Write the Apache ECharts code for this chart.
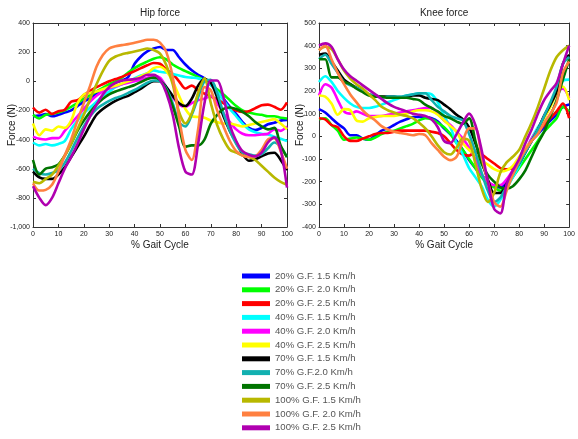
<!DOCTYPE html>
<html>
<head>
<meta charset="utf-8">
<script src="https://cdn.jsdelivr.net/npm/echarts@6/dist/echarts.min.js"></script>
<style>
html,body{margin:0;padding:0;background:#fff;}
#c{width:578px;height:439px;}
</style>
</head>
<body>
<div id="c"></div>
<script>
// % gait cycle sample points
const gaitPct = [0,2.5,5,7.5,10,12.5,15,17.5,20,22.5,25,27.5,30,32.5,35,37.5,40,42.5,45,47.5,50,52.5,55,57.5,60,62.5,65,67.5,70,72.5,75,77.5,80,82.5,85,87.5,90,92.5,95,97.5,100];
const seriesNames = ['20% G.F. 1.5 Km/h','20% G.F. 2.0 Km/h','20% G.F. 2.5 Km/h','40% G.F. 1.5 Km/h','40% G.F. 2.0 Km/h','40% G.F. 2.5 Km/h','70% G.F. 1.5 Km/h','70% G.F.2.0 Km/h','70% G.F. 2.5 Km/h','100% G.F. 1.5 Km/h','100% G.F. 2.0 Km/h','100% G.F. 2.5 Km/h'];
const seriesColors = ['#0000ff','#00ff00','#ff0000','#00ffff','#ff00ff','#ffff00','#000000','#12b0b0','#007400','#b8b800','#ff8040','#b000b0'];
const hipTicks = [-1000,-800,-600,-400,-200,0,200,400];
const kneeTicks = [-400,-300,-200,-100,0,100,200,300,400,500];

// Hip force (N)
const hip20_15 = [-240,-235,-225,-240,-230,-215,-200,-170,-140,-115,-85,-55,-30,-10,5,30,120,170,205,225,235,215,215,165,115,75,45,20,-20,-70,-120,-175,-225,-280,-320,-335,-320,-295,-285,-270,-265];
const hip20_20 = [-230,-255,-230,-225,-215,-200,-175,-150,-120,-95,-70,-45,-20,0,25,60,90,115,135,155,165,150,115,90,70,50,30,5,-25,-55,-90,-130,-170,-200,-215,-225,-230,-240,-240,-250,-255];
const hip20_25 = [-180,-215,-195,-225,-205,-195,-140,-130,-95,-65,-40,-20,0,15,30,50,70,90,110,125,120,80,50,0,-50,-30,-60,-85,-105,-125,-150,-180,-200,-210,-205,-185,-165,-160,-175,-195,-145];
const hip40_15 = [-420,-440,-430,-440,-430,-410,-330,-270,-220,-180,-140,-100,-70,-40,-20,0,20,40,55,75,65,60,50,40,30,25,20,5,-25,-70,-130,-190,-240,-290,-330,-350,-360,-365,-380,-395,-410];
const hip40_20 = [-380,-395,-400,-390,-390,-340,-290,-240,-190,-140,-100,-70,-50,-35,-20,-10,0,10,25,40,25,-40,-110,-160,-175,-150,-130,-120,-100,-150,-220,-280,-330,-360,-370,-370,-365,-360,-330,-340,-310];
const hip40_25 = [-290,-370,-330,-340,-310,-320,-270,-150,-90,-80,-70,-55,-40,-30,-15,0,15,35,55,90,100,70,0,-100,-190,-240,-245,-250,-270,-280,-290,-290,-300,-310,-300,-290,-280,-270,-260,-290,-330];
const hip70_15 = [-620,-660,-670,-670,-640,-590,-520,-450,-380,-300,-230,-190,-160,-135,-115,-100,-75,-50,-20,0,0,-40,-100,-150,-170,-120,-30,15,-10,-110,-240,-340,-420,-500,-545,-535,-515,-495,-490,-540,-610];
const hip70_20 = [-600,-630,-640,-630,-610,-560,-480,-390,-310,-240,-190,-160,-135,-115,-100,-80,-60,-35,-10,5,0,-50,-150,-280,-310,-230,-110,0,10,-80,-220,-340,-430,-490,-500,-510,-500,-460,-420,-450,-520];
const hip70_25 = [-540,-640,-600,-590,-570,-510,-430,-340,-270,-210,-160,-120,-90,-70,-55,-40,-25,-5,15,25,10,-60,-170,-310,-450,-440,-440,-400,-290,-230,-190,-180,-190,-210,-240,-280,-310,-330,-320,-440,-520];
const hip100_15 = [-690,-700,-670,-640,-580,-510,-430,-330,-230,-120,-20,70,140,170,185,195,205,215,225,215,190,110,-20,-210,-290,-220,-80,20,-150,-300,-400,-470,-490,-510,-520,-540,-580,-620,-660,-690,-710];
const hip100_20 = [-700,-750,-745,-710,-620,-510,-400,-270,-150,-30,100,180,225,240,248,255,265,275,285,285,265,200,30,-250,-470,-540,-330,-40,-60,-200,-310,-410,-480,-510,-520,-515,-470,-400,-390,-480,-600];
const hip100_25 = [-720,-800,-850,-800,-700,-600,-520,-430,-330,-240,-160,-90,-40,-10,5,10,15,25,45,45,10,-80,-230,-460,-620,-640,-430,-150,5,5,-110,-300,-410,-480,-505,-515,-490,-420,-385,-470,-730];

// Knee force (N)
const knee20_15 = [120,105,80,55,35,5,5,-10,-15,5,25,35,50,65,75,85,85,85,80,65,35,10,-20,-60,-105,-140,-170,-200,-220,-225,-200,-160,-110,-70,-20,10,40,70,95,130,140];
const knee20_20 = [75,80,50,25,-15,-10,-5,-10,-15,-5,10,20,25,35,45,55,70,80,75,60,40,10,-30,-60,-100,-140,-180,-210,-225,-240,-220,-180,-140,-100,-60,-20,20,50,80,130,110];
const knee20_25 = [80,75,50,40,0,-20,-20,-10,0,10,15,15,20,25,25,25,25,25,20,15,0,-30,-60,-80,-85,-70,-80,-100,-120,-140,-145,-140,-100,-60,-20,20,50,80,110,145,80];
const knee40_15 = [240,265,240,200,170,145,130,125,125,130,140,150,160,170,180,185,190,190,185,150,90,40,-30,-80,-140,-180,-220,-280,-310,-280,-230,-180,-130,-70,-10,40,80,140,200,245,250];
const knee40_20 = [180,230,215,160,110,100,110,100,90,90,90,95,100,105,110,115,120,125,125,100,70,50,20,-10,-50,-100,-170,-200,-215,-215,-190,-150,-110,-60,-10,30,90,140,190,210,170];
const knee40_25 = [180,175,145,95,120,115,70,65,80,85,90,90,90,95,100,110,115,115,110,95,70,45,20,-30,-60,-80,-105,-125,-145,-155,-150,-130,-90,-50,-20,30,80,130,190,220,160];
const knee70_15 = [360,365,330,290,250,230,215,200,185,180,175,175,175,170,175,180,180,170,165,160,140,120,95,75,40,-30,-110,-190,-250,-250,-210,-160,-120,-70,-20,30,90,140,200,320,360];
const knee70_20 = [340,360,320,280,240,225,215,200,185,180,170,175,175,175,180,185,190,190,160,130,110,90,80,70,10,-70,-160,-240,-290,-270,-220,-170,-120,-70,-20,30,90,150,220,320,350];
const knee70_25 = [340,340,260,260,240,230,210,195,180,175,175,170,170,170,170,165,160,140,125,110,90,80,65,55,80,-20,-120,-170,-200,-225,-230,-220,-190,-150,-90,-30,20,90,160,250,340];
const knee100_15 = [380,395,385,340,290,255,230,210,185,160,130,115,105,95,90,80,60,35,0,-40,-70,-80,-50,-10,-20,-120,-230,-290,-250,-160,-115,-90,-60,0,60,130,210,290,350,380,400];
const knee100_20 = [380,400,340,280,230,185,150,115,90,70,45,30,20,15,10,5,10,5,-30,-60,-90,-105,-90,-20,35,35,-90,-200,-290,-310,-240,-170,-110,-60,-20,10,60,100,150,280,330];
const knee100_25 = [400,410,395,340,295,265,245,225,205,185,165,145,130,120,110,100,95,90,75,40,-20,-30,10,60,100,50,-60,-200,-320,-340,-210,-150,-100,-30,30,100,160,200,235,320,400];

const hipSets = [hip20_15,hip20_20,hip20_25,hip40_15,hip40_20,hip40_25,hip70_15,hip70_20,hip70_25,hip100_15,hip100_20,hip100_25];
const kneeSets = [knee20_15,knee20_20,knee20_25,knee40_15,knee40_20,knee40_25,knee70_15,knee70_20,knee70_25,knee100_15,knee100_20,knee100_25];

const FONT = '"Liberation Sans", Arial, sans-serif';
const axisCol = '#333';

function bottomX(grid){
  return {type:'value', gridIndex:grid, position:'bottom', min:0, max:100, interval:10,
    axisLine:{onZero:false, lineStyle:{color:axisCol, width:1}},
    axisTick:{inside:true, length:3, lineStyle:{color:axisCol}},
    axisLabel:{fontSize:7, color:'#222', margin:4, fontFamily:FONT},
    splitLine:{show:false},
    name:'% Gait Cycle', nameLocation:'middle', nameGap:13, nameMoveOverlap:false,
    nameTextStyle:{fontSize:10, color:'#222', fontFamily:FONT}};
}
function topX(grid, title){
  return {type:'value', gridIndex:grid, position:'top', min:0, max:100, interval:10,
    axisLine:{onZero:false, lineStyle:{color:axisCol, width:1}},
    axisTick:{inside:true, length:3, lineStyle:{color:axisCol}},
    axisLabel:{show:false}, splitLine:{show:false},
    name:title, nameLocation:'middle', nameGap:5, nameMoveOverlap:false,
    nameTextStyle:{fontSize:10, color:'#222', fontFamily:FONT}};
}
function leftY(grid, ticks, gap){
  const step = ticks[1]-ticks[0];
  return {type:'value', gridIndex:grid, position:'left', min:ticks[0], max:ticks[ticks.length-1], interval:step,
    axisLine:{onZero:false, lineStyle:{color:axisCol, width:1}},
    axisTick:{inside:true, length:3, lineStyle:{color:axisCol}},
    axisLabel:{fontSize:7, color:'#222', margin:3, fontFamily:FONT},
    splitLine:{show:false},
    name:'Force (N)', nameLocation:'middle', nameGap:gap, nameMoveOverlap:false,
    nameTextStyle:{fontSize:10, color:'#222', fontFamily:FONT}};
}
function rightY(grid, ticks){
  const step = ticks[1]-ticks[0];
  return {type:'value', gridIndex:grid, position:'right', min:ticks[0], max:ticks[ticks.length-1], interval:step,
    axisLine:{onZero:false, lineStyle:{color:axisCol, width:1}},
    axisTick:{inside:true, length:3, lineStyle:{color:axisCol}},
    axisLabel:{show:false}, splitLine:{show:false}};
}

const series = [];
seriesNames.forEach((name,i)=>{
  series.push({name:name, type:'line', xAxisIndex:0, yAxisIndex:0, color:seriesColors[i],
    showSymbol:false, smooth:0.3, lineStyle:{width:2.6, color:seriesColors[i]},
    data: gaitPct.map((x,j)=>[x, hipSets[i][j]])});
  series.push({name:name, type:'line', xAxisIndex:2, yAxisIndex:2, color:seriesColors[i],
    showSymbol:false, smooth:0.3, lineStyle:{width:2.6, color:seriesColors[i]},
    data: gaitPct.map((x,j)=>[x, kneeSets[i][j]])});
});

const chart = echarts.init(document.getElementById('c'), null, {renderer:'canvas'});
chart.setOption({
  animation:false,
  backgroundColor:'#fff',
  textStyle:{fontFamily:FONT},
  grid:[
    {left:33, top:23, width:254, height:204},
    {left:319, top:23, width:258, height:204}
  ],
  xAxis:[bottomX(0), topX(0,'Hip force'), bottomX(1), topX(1,'Knee force')],
  yAxis:[leftY(0, hipTicks, 16), rightY(0, hipTicks), leftY(1, kneeTicks, 14), rightY(1, kneeTicks)],
  legend:{
    data:seriesNames, orient:'vertical', left:242, top:271, height:200, padding:0,
    icon:'rect', itemWidth:28, itemHeight:5, itemGap:3.8,
    textStyle:{fontSize:9.6, color:'#555', lineHeight:10, fontFamily:FONT}
  },
  series:series
});
</script>
</body>
</html>
